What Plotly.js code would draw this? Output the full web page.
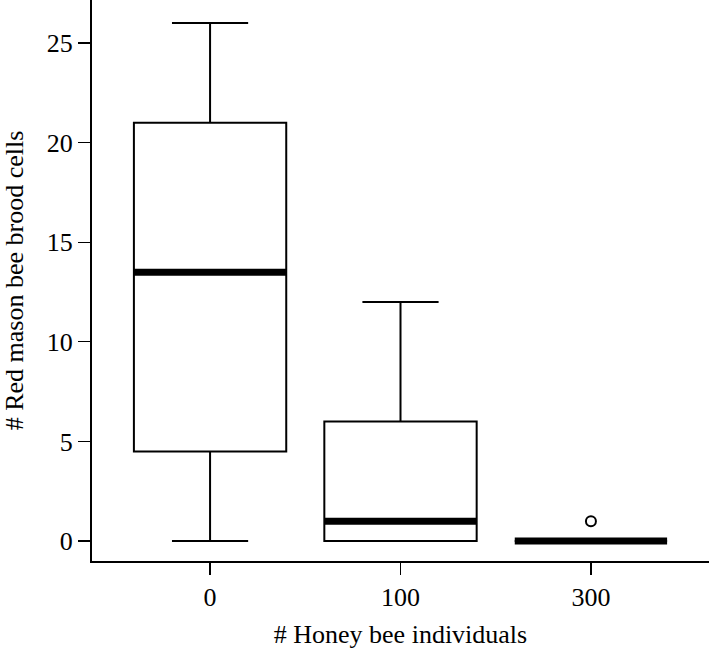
<!DOCTYPE html>
<html>
<head>
<meta charset="utf-8">
<script src="https://cdn.plot.ly/plotly-3.0.1.min.js"></script>
<style>html,body{margin:0;padding:0;background:#fff;}#chart{width:709px;height:649px;}</style>
</head>
<body>
<div id="chart"></div>
<script>
// Data
const groups = ['0', '100', '300'];
const positions = [1, 2, 3];
const lowerWhisker = [0, 0, 0];
const q1 = [4.5, 0, 0];
const medians = [13.5, 1, 0];
const q3 = [21, 6, 0];
const upperWhisker = [26, 12, 0];
const outlierGroup = [3];
const outlierValue = [1];
const yTicks = [0, 5, 10, 15, 20, 25];

const boxWidth = 0.8;
const SERIF = 'Liberation Serif';

const traces = [];
traces.push({
  type: 'box',
  x: positions,
  q1: q1,
  median: medians,
  q3: q3,
  lowerfence: lowerWhisker,
  upperfence: upperWhisker,
  width: boxWidth,
  whiskerwidth: 0.5,
  fillcolor: 'white',
  line: {color: 'black', width: 2},
  boxpoints: false,
  hoverinfo: 'skip',
  showlegend: false
});
// thick median lines
positions.forEach(function (p, i) {
  traces.push({
    type: 'scatter',
    mode: 'lines',
    x: [p - boxWidth / 2, p + boxWidth / 2],
    y: [medians[i], medians[i]],
    line: {color: 'black', width: 7},
    hoverinfo: 'skip',
    showlegend: false
  });
});
traces.push({
  type: 'scatter',
  mode: 'markers',
  x: outlierGroup,
  y: outlierValue,
  marker: {symbol: 'circle-open', size: 10, color: 'black', line: {width: 2, color: 'black'}},
  hoverinfo: 'skip',
  showlegend: false
});

const layout = {
  width: 709,
  height: 649,
  margin: {l: 92, r: 0, t: 0, b: 88},
  paper_bgcolor: 'white',
  plot_bgcolor: 'white',
  showlegend: false,
  font: {family: SERIF, color: 'black', size: 26},
  xaxis: {
    range: [0.38, 3.62],
    tickvals: positions,
    ticktext: groups,
    showgrid: false,
    zeroline: false,
    showline: true,
    linecolor: 'black',
    linewidth: 2,
    ticks: 'outside',
    ticklen: 12,
    tickwidth: 1.2,
    tickcolor: 'black',
    tickfont: {family: SERIF, size: 26, color: 'black'},
    title: {text: '# Honey bee individuals', font: {family: SERIF, size: 26, color: 'black'}, standoff: 16}
  },
  yaxis: {
    range: [-1.0, 27.16],
    tickvals: yTicks,
    showgrid: false,
    zeroline: false,
    showline: true,
    linecolor: 'black',
    linewidth: 2,
    ticks: 'outside',
    ticklen: 12,
    tickwidth: 1.2,
    tickcolor: 'black',
    tickfont: {family: SERIF, size: 26, color: 'black'},
    title: {text: '# Red mason bee brood cells', font: {family: SERIF, size: 26, color: 'black'}, standoff: 18}
  }
};

Plotly.newPlot('chart', traces, layout, {displayModeBar: false, staticPlot: true});
</script>
</body>
</html>
